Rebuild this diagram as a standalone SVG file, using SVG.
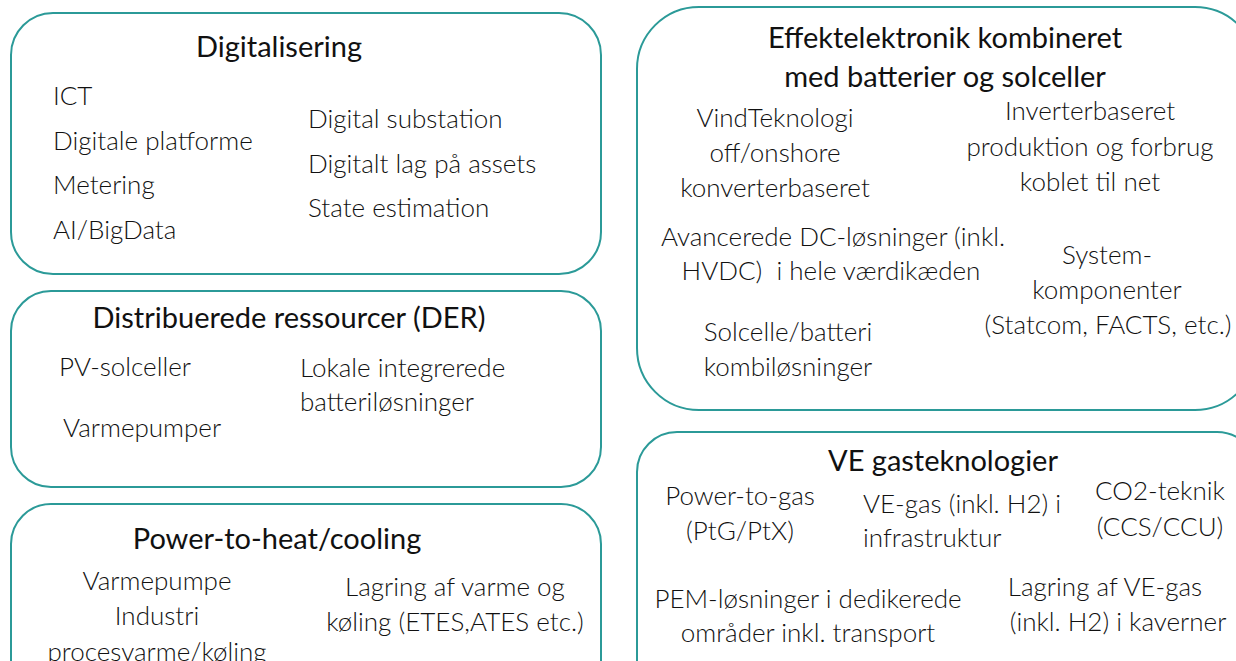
<svg xmlns="http://www.w3.org/2000/svg" width="1236" height="661" viewBox="0 0 1236 661">
  <style>
    .box { fill: #ffffff; stroke: #2b9a98; stroke-width: 2; }
    text { font-family: Lato, "Open Sans", "Liberation Sans", sans-serif; fill: #111111; }
    .title { font-size: 29px; font-weight: 400; }
    .item { font-size: 26px; font-weight: 300; }
    .mid { text-anchor: middle; }
  </style>
  <rect width="1236" height="661" fill="#ffffff"/>

  <!-- Digitalisering -->
  <g id="digitalisering">
    <rect class="box" x="11" y="13" width="590" height="261" rx="42"/>
    <text class="title mid" x="279" y="57">Digitalisering</text>
    <text class="item" x="53" y="105">ICT</text>
    <text class="item" x="53" y="150">Digitale platforme</text>
    <text class="item" x="53" y="194">Metering</text>
    <text class="item" x="53" y="239">AI/BigData</text>
    <text class="item" x="308" y="128">Digital substation</text>
    <text class="item" x="308" y="173">Digitalt lag på assets</text>
    <text class="item" x="308" y="217">State estimation</text>
  </g>

  <!-- Distribuerede ressourcer -->
  <g id="der">
    <rect class="box" x="11" y="291" width="590" height="196" rx="40"/>
    <text class="title mid" x="289" y="328">Distribuerede ressourcer (DER)</text>
    <text class="item" x="59" y="376">PV-solceller</text>
    <text class="item" x="63" y="437">Varmepumper</text>
    <text class="item" x="300" y="377">Lokale integrerede</text>
    <text class="item" x="300" y="411">batteriløsninger</text>
  </g>

  <!-- Power-to-heat/cooling -->
  <g id="power-to-heat">
    <rect class="box" x="11" y="504" width="590" height="200" rx="40"/>
    <text class="title mid" x="277" y="549">Power-to-heat/cooling</text>
    <text class="item mid" x="157" y="590">Varmepumpe</text>
    <text class="item mid" x="157" y="625">Industri</text>
    <text class="item mid" x="157" y="661">procesvarme/køling</text>
    <text class="item mid" x="455" y="596">Lagring af varme og</text>
    <text class="item mid" x="455" y="631">køling (ETES,ATES etc.)</text>
  </g>

  <!-- Effektelektronik -->
  <g id="effektelektronik">
    <rect class="box" x="637" y="7" width="620" height="403" rx="62"/>
    <text class="title mid" x="945" y="48">Effektelektronik kombineret</text>
    <text class="title mid" x="945" y="87">med batterier og solceller</text>
    <text class="item mid" x="775" y="127">VindTeknologi</text>
    <text class="item mid" x="775" y="162">off/onshore</text>
    <text class="item mid" x="775" y="197">konverterbaseret</text>
    <text class="item mid" x="1090" y="120">Inverterbaseret</text>
    <text class="item mid" x="1090" y="156">produktion og forbrug</text>
    <text class="item mid" x="1090" y="191">koblet til net</text>
    <text class="item mid" x="833" y="246">Avancerede DC-løsninger (inkl.</text>
    <text class="item mid" x="831" y="280" xml:space="preserve">HVDC)  i hele værdikæden</text>
    <text class="item mid" x="1107" y="264">System-</text>
    <text class="item mid" x="1107" y="299">komponenter</text>
    <text class="item mid" x="1108" y="334">(Statcom, FACTS, etc.)</text>
    <text class="item mid" x="788" y="341">Solcelle/batteri</text>
    <text class="item mid" x="788" y="376">kombiløsninger</text>
  </g>

  <!-- VE gasteknologier -->
  <g id="ve-gas">
    <rect class="box" x="637" y="432" width="620" height="270" rx="40"/>
    <text class="title mid" x="943" y="471">VE gasteknologier</text>
    <text class="item mid" x="740" y="505">Power-to-gas</text>
    <text class="item mid" x="740" y="540">(PtG/PtX)</text>
    <text class="item" x="863" y="513">VE-gas (inkl. H2) i</text>
    <text class="item" x="863" y="547">infrastruktur</text>
    <text class="item mid" x="1160" y="500">CO2-teknik</text>
    <text class="item mid" x="1160" y="536">(CCS/CCU)</text>
    <text class="item mid" x="808" y="608">PEM-løsninger i dedikerede</text>
    <text class="item mid" x="808" y="642">områder inkl. transport</text>
    <text class="item mid" x="1105" y="596">Lagring af VE-gas</text>
    <text class="item mid" x="1118" y="631">(inkl. H2) i kaverner</text>
  </g>

  <g id="connectors"/>
</svg>
